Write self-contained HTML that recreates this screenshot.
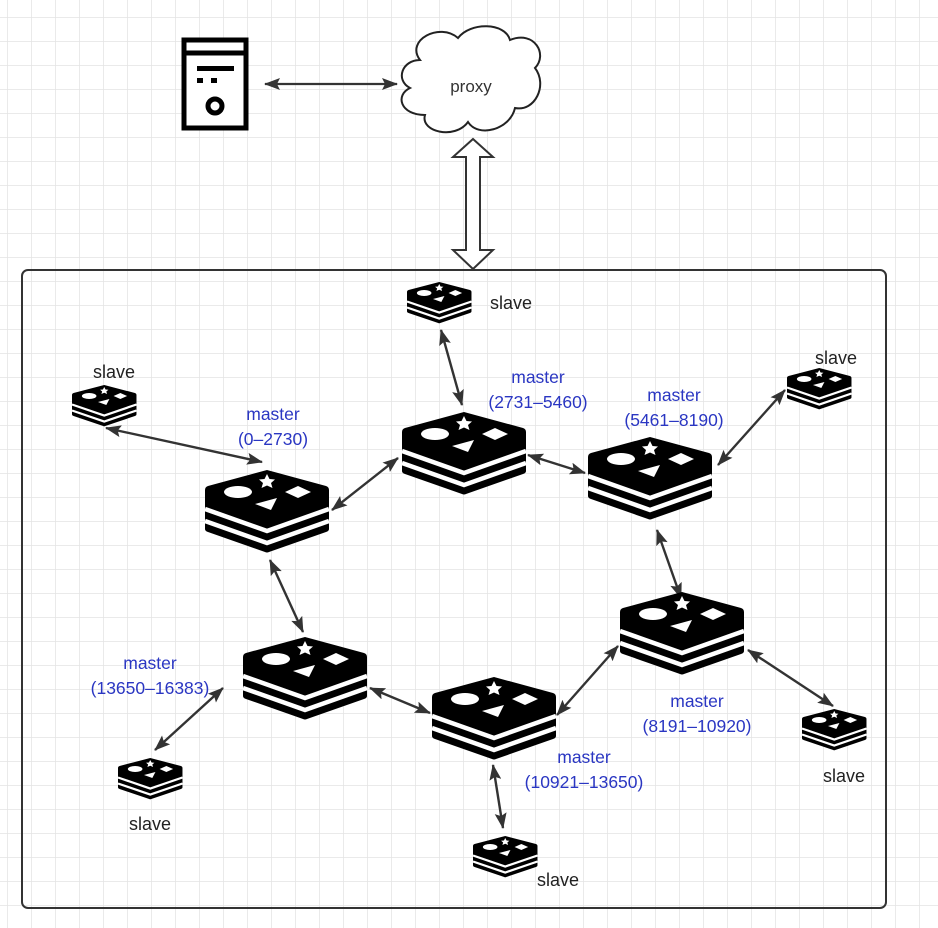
<!DOCTYPE html>
<html><head><meta charset="utf-8"><style>
html,body{margin:0;padding:0;background:#fff;}
body{width:938px;height:928px;overflow:hidden;position:relative;font-family:"Liberation Sans",sans-serif;}
svg{position:absolute;left:0;top:0;}
</style></head><body>
<svg width="938" height="928" viewBox="0 0 938 928" xmlns="http://www.w3.org/2000/svg">
<defs>
<pattern id="g" x="7" y="17" width="24" height="24" patternUnits="userSpaceOnUse">
<path d="M0 0H24M0 0V24" stroke="#e3e3e3" stroke-width="1.5" fill="none"/>
</pattern>
<g id="r">
<path d="M62 0 L121 16 Q124 17 124 20 L124 59 Q124 61 121 62 L64 82 Q62 83 60 82 L3 62 Q0 61 0 59 L0 20 Q0 17 3 16 Z" fill="#000"/>
<path d="M0 39 L62 61 L124 39" stroke="#fff" stroke-width="4.5" fill="none"/>
<path d="M0 51 L62 73 L124 51" stroke="#fff" stroke-width="4.5" fill="none"/>
<ellipse cx="33" cy="22" rx="14" ry="6" fill="#fff"/>
<polygon points="62,4 64.5,9 70,9.5 66,13 67.5,18 62,15.5 56.5,18 58,13 54,9.5 59.5,9" fill="#fff"/>
<polygon points="80,22 93,16 106,22 93,28" fill="#fff"/>
<polygon points="50,34 72,28 66,40" fill="#fff"/>
</g>
<marker id="a" viewBox="0 0 16 12" refX="15" refY="6" markerWidth="16" markerHeight="12" orient="auto-start-reverse" markerUnits="userSpaceOnUse">
<path d="M0 0 L16 6 L0 12 L3 6 Z" fill="#333"/>
</marker>
</defs>
<rect width="938" height="928" fill="url(#g)"/>

<!-- server -->
<rect x="184" y="40" width="62" height="88" fill="#fff" stroke="#000" stroke-width="5"/>
<line x1="184" y1="53" x2="246" y2="53" stroke="#000" stroke-width="5"/>
<rect x="197" y="66" width="37" height="5" fill="#000"/>
<rect x="197" y="78" width="6" height="5" fill="#000"/>
<rect x="211" y="78" width="6" height="5" fill="#000"/>
<circle cx="215" cy="106" r="7" fill="none" stroke="#000" stroke-width="5"/>

<!-- cloud -->
<path d="M420 60 C405 40 440 22 458 38 C470 22 505 22 510 40 C535 30 548 55 535 68 C548 85 535 112 515 108 C510 130 478 138 468 122 C455 140 420 132 425 115 C400 115 395 95 410 88 C395 80 402 60 420 60 Z" fill="#fff" stroke="#222" stroke-width="2"/>
<text x="471" y="92" font-size="17" fill="#333" text-anchor="middle">proxy</text>

<line x1="265" y1="84" x2="397" y2="84" stroke="#333" stroke-width="2.2" marker-start="url(#a)" marker-end="url(#a)"/>

<!-- hollow arrow -->
<polygon points="473,139 493,157 480,157 480,250 493,250 473,269 453,250 466,250 466,157 453,157" fill="#fff" stroke="#333" stroke-width="2"/>

<rect x="22" y="270" width="864" height="638" rx="6" fill="none" stroke="#333" stroke-width="2"/>

<!-- connectors -->
<g stroke="#333" stroke-width="2.4" fill="none" marker-start="url(#a)" marker-end="url(#a)">
<line x1="106" y1="428" x2="262" y2="462"/>
<line x1="332" y1="510" x2="398" y2="458"/>
<line x1="441" y1="330" x2="462" y2="405"/>
<line x1="528" y1="455" x2="585" y2="473"/>
<line x1="718" y1="465" x2="785" y2="390"/>
<line x1="657" y1="530" x2="681" y2="598"/>
<line x1="270" y1="560" x2="303" y2="632"/>
<line x1="370" y1="688" x2="430" y2="713"/>
<line x1="557" y1="715" x2="618" y2="646"/>
<line x1="748" y1="650" x2="833" y2="706"/>
<line x1="223" y1="688" x2="155" y2="750"/>
<line x1="493" y1="765" x2="503" y2="828"/>
</g>

<!-- masters -->
<use href="#r" transform="translate(205,470)"/>
<use href="#r" transform="translate(402,412)"/>
<use href="#r" transform="translate(588,437)"/>
<use href="#r" transform="translate(620,592)"/>
<use href="#r" transform="translate(432,677)"/>
<use href="#r" transform="translate(243,637)"/>
<!-- slaves -->
<use href="#r" transform="translate(407,282) scale(0.52,0.5)"/>
<use href="#r" transform="translate(72,385) scale(0.52,0.5)"/>
<use href="#r" transform="translate(787,368) scale(0.52,0.5)"/>
<use href="#r" transform="translate(802,709) scale(0.52,0.5)"/>
<use href="#r" transform="translate(473,836) scale(0.52,0.5)"/>
<use href="#r" transform="translate(118,758) scale(0.52,0.5)"/>

<g font-size="18" fill="#222" text-anchor="middle">
<text x="511" y="309">slave</text>
<text x="114" y="378">slave</text>
<text x="836" y="364">slave</text>
<text x="844" y="782">slave</text>
<text x="558" y="886">slave</text>
<text x="150" y="830">slave</text>
</g>
<g font-size="17.5" fill="#2a36c2" text-anchor="middle">
<text x="273" y="420">master</text><text x="273" y="445">(0–2730)</text>
<text x="538" y="383">master</text><text x="538" y="408">(2731–5460)</text>
<text x="674" y="401">master</text><text x="674" y="426">(5461–8190)</text>
<text x="697" y="707">master</text><text x="697" y="732">(8191–10920)</text>
<text x="584" y="763">master</text><text x="584" y="788">(10921–13650)</text>
<text x="150" y="669">master</text><text x="150" y="694">(13650–16383)</text>
</g>
</svg>
</body></html>
